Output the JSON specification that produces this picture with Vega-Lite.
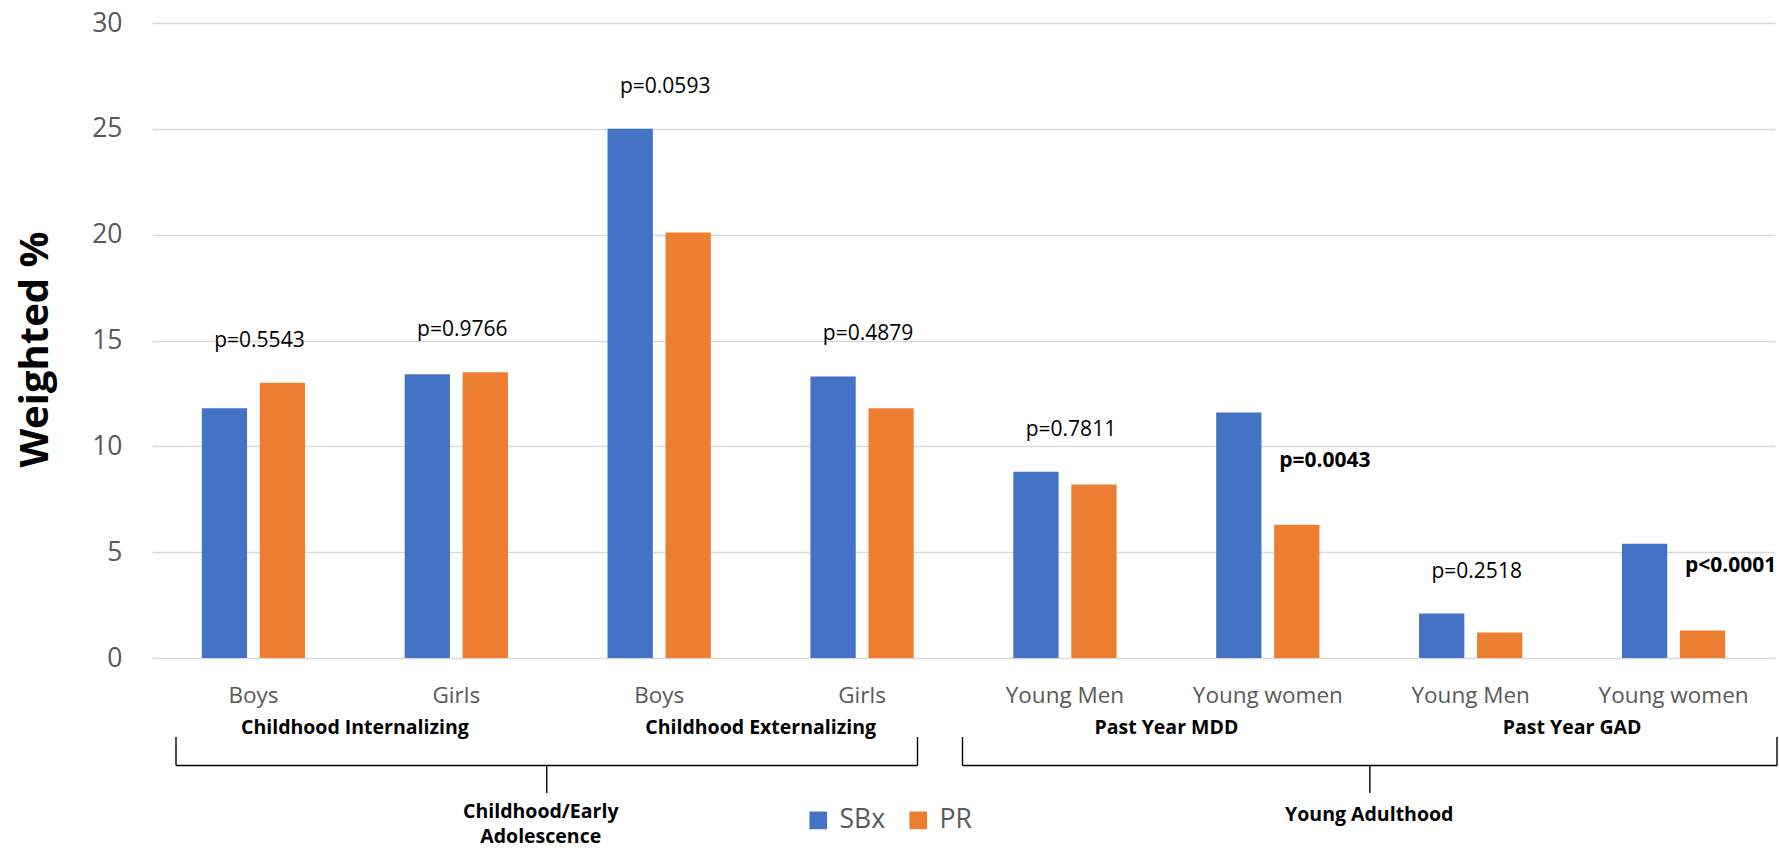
{
  "$schema": "https://vega.github.io/schema/vega-lite/v6.json",
  "width": 1623,
  "height": 635,
  "autosize": "none",
  "padding": {"left": 152, "top": 23, "right": 4, "bottom": 193},
  "background": "white",
  "config": {"view": {"stroke": null}, "font": "Open Sans"},
  "datasets": {
    "groups": [
      {"category": "Boys (Childhood Internalizing)", "subgroup": "Boys", "domain": "Childhood Internalizing", "period": "Childhood/Early Adolescence", "SBx": 11.8, "PR": 13.0, "p": "p=0.5543", "p_value": 0.5543},
      {"category": "Girls (Childhood Internalizing)", "subgroup": "Girls", "domain": "Childhood Internalizing", "period": "Childhood/Early Adolescence", "SBx": 13.4, "PR": 13.5, "p": "p=0.9766", "p_value": 0.9766},
      {"category": "Boys (Childhood Externalizing)", "subgroup": "Boys", "domain": "Childhood Externalizing", "period": "Childhood/Early Adolescence", "SBx": 25.0, "PR": 20.1, "p": "p=0.0593", "p_value": 0.0593},
      {"category": "Girls (Childhood Externalizing)", "subgroup": "Girls", "domain": "Childhood Externalizing", "period": "Childhood/Early Adolescence", "SBx": 13.3, "PR": 11.8, "p": "p=0.4879", "p_value": 0.4879},
      {"category": "Young Men (Past Year MDD)", "subgroup": "Young Men", "domain": "Past Year MDD", "period": "Young Adulthood", "SBx": 8.8, "PR": 8.2, "p": "p=0.7811", "p_value": 0.7811},
      {"category": "Young women (Past Year MDD)", "subgroup": "Young women", "domain": "Past Year MDD", "period": "Young Adulthood", "SBx": 11.6, "PR": 6.3, "p": "p=0.0043", "p_value": 0.0043},
      {"category": "Young Men (Past Year GAD)", "subgroup": "Young Men", "domain": "Past Year GAD", "period": "Young Adulthood", "SBx": 2.1, "PR": 1.2, "p": "p=0.2518", "p_value": 0.2518},
      {"category": "Young women (Past Year GAD)", "subgroup": "Young women", "domain": "Past Year GAD", "period": "Young Adulthood", "SBx": 5.4, "PR": 1.3, "p": "p<0.0001", "p_value": 0.0001}
    ],
    "periods": [
      {"period": "Childhood/Early Adolescence", "label": "Childhood/Early\nAdolescence", "first": "Boys (Childhood Internalizing)", "last": "Girls (Childhood Externalizing)", "middle": "Girls (Childhood Internalizing)"},
      {"period": "Young Adulthood", "label": "Young Adulthood", "first": "Young Men (Past Year MDD)", "last": "Young women (Past Year GAD)", "middle": "Young women (Past Year MDD)"}
    ]
  },
  "layer": [
    {
      "data": {"name": "groups"},
      "transform": [{"fold": ["SBx", "PR"], "as": ["series", "value"]}],
      "mark": {"type": "bar"},
      "encoding": {
        "x": {
          "field": "category", "type": "nominal", "sort": null,
          "scale": {
            "domain": ["Boys (Childhood Internalizing)", "Girls (Childhood Internalizing)", "Boys (Childhood Externalizing)", "Girls (Childhood Externalizing)", "Young Men (Past Year MDD)", "Young women (Past Year MDD)", "Young Men (Past Year GAD)", "Young women (Past Year GAD)"],
            "paddingInner": 0, "paddingOuter": 0
          },
          "axis": {
            "title": null, "domain": false, "ticks": false, "tickSize": 0,
            "labelExpr": "split(datum.label, ' (')[0]",
            "labelAngle": 0, "labelFontSize": 22.5, "labelColor": "#595959",
            "labelBaseline": "alphabetic", "labelPadding": 44, "labelFont": "Open Sans"
          }
        },
        "xOffset": {
          "field": "series", "type": "nominal",
          "scale": {"domain": ["SBx", "PR"], "paddingInner": 0.219, "paddingOuter": 0.859}
        },
        "y": {
          "field": "value", "type": "quantitative",
          "scale": {"domain": [0, 30], "nice": false, "zero": true},
          "axis": {
            "values": [0, 5, 10, 15, 20, 25, 30],
            "title": "Weighted %", "titleFontSize": 40, "titleFontWeight": "bold", "titleColor": "#000000",
            "titleFont": "Open Sans", "titleAngle": -90, "titleX": -105, "titleY": 326,
            "titleAlign": "center", "titleBaseline": "alphabetic",
            "domain": false, "ticks": false, "tickSize": 0,
            "grid": true, "gridColor": "#d9d9d9", "gridWidth": 1.4,
            "labelFontSize": 26.5, "labelColor": "#595959", "labelPadding": 30, "labelFont": "Open Sans"
          }
        },
        "color": {
          "field": "series", "type": "nominal",
          "scale": {"domain": ["SBx", "PR"], "range": ["#4472C4", "#ED7D31"]},
          "legend": {
            "orient": "none", "legendX": 653, "legendY": 784, "direction": "horizontal",
            "title": null, "symbolType": "square", "symbolSize": 313, "symbolStrokeWidth": 0,
            "symbolOpacity": 1, "labelFontSize": 26.5, "labelColor": "#595959", "labelFont": "Open Sans",
            "columnPadding": 19, "labelOffset": 8
          }
        }
      }
    },
    {
      "data": {"name": "groups"},
      "transform": [
        {"fold": ["SBx", "PR"], "as": ["series", "value"]},
        {"filter": "datum.p_value >= 0.05"}
      ],
      "mark": {"type": "text", "fontSize": 21, "color": "#000000", "baseline": "alphabetic", "dy": -36, "dx": 6, "font": "Open Sans"},
      "encoding": {
        "x": {"field": "category", "type": "nominal"},
        "y": {"aggregate": "max", "field": "value", "type": "quantitative"},
        "text": {"field": "p", "type": "nominal"}
      }
    },
    {
      "data": {"name": "groups"},
      "transform": [
        {"fold": ["SBx", "PR"], "as": ["series", "value"]},
        {"filter": "datum.p_value < 0.05 && datum.series == 'PR'"}
      ],
      "mark": {"type": "text", "fontSize": 21, "fontWeight": "bold", "color": "#000000", "baseline": "alphabetic", "dy": -58, "dx": 28, "font": "Open Sans"},
      "encoding": {
        "x": {"field": "category", "type": "nominal"},
        "xOffset": {"field": "series", "type": "nominal"},
        "y": {"field": "value", "type": "quantitative"},
        "text": {"field": "p", "type": "nominal"}
      }
    },
    {
      "data": {"name": "groups"},
      "transform": [{"filter": "datum.subgroup == 'Boys' && datum.domain == 'Childhood Internalizing' || datum.subgroup == 'Boys' && datum.domain == 'Childhood Externalizing' || datum.subgroup == 'Young Men'"}],
      "mark": {"type": "text", "fontSize": 19.5, "fontWeight": "bold", "color": "#000000", "baseline": "alphabetic", "dy": 76, "font": "Open Sans"},
      "encoding": {
        "x": {"field": "category", "type": "nominal", "bandPosition": 1},
        "y": {"datum": 0},
        "text": {"field": "domain", "type": "nominal"}
      }
    },
    {
      "data": {"name": "periods"},
      "transform": [{"filter": "datum.period == 'Childhood/Early Adolescence'"}],
      "layer": [
        {
          "mark": {"type": "rule", "color": "#000000", "strokeWidth": 1.4, "xOffset": 24, "x2Offset": -46, "yOffset": 107.5},
          "encoding": {
            "x": {"field": "first", "type": "nominal", "bandPosition": 0},
            "x2": {"field": "last", "bandPosition": 1},
            "y": {"datum": 0}
          }
        },
        {
          "mark": {"type": "rule", "color": "#000000", "strokeWidth": 1.4, "xOffset": 24, "yOffset": 79, "y2Offset": 107.5},
          "encoding": {
            "x": {"field": "first", "type": "nominal", "bandPosition": 0},
            "y": {"datum": 0}, "y2": {"datum": 0}
          }
        },
        {
          "mark": {"type": "rule", "color": "#000000", "strokeWidth": 1.4, "xOffset": -46, "yOffset": 79, "y2Offset": 107.5},
          "encoding": {
            "x": {"field": "last", "type": "nominal", "bandPosition": 1},
            "y": {"datum": 0}, "y2": {"datum": 0}
          }
        },
        {
          "mark": {"type": "rule", "color": "#000000", "strokeWidth": 1.4, "xOffset": -11, "yOffset": 107.5, "y2Offset": 135},
          "encoding": {
            "x": {"field": "middle", "type": "nominal", "bandPosition": 1},
            "y": {"datum": 0}, "y2": {"datum": 0}
          }
        },
        {
          "mark": {"type": "text", "fontSize": 19.5, "fontWeight": "bold", "color": "#000000", "baseline": "alphabetic", "dy": 160, "dx": -17, "lineBreak": "\n", "lineHeight": 25, "font": "Open Sans"},
          "encoding": {
            "x": {"field": "middle", "type": "nominal", "bandPosition": 1},
            "y": {"datum": 0},
            "text": {"field": "label", "type": "nominal"}
          }
        }
      ]
    },
    {
      "data": {"name": "periods"},
      "transform": [{"filter": "datum.period == 'Young Adulthood'"}],
      "layer": [
        {
          "mark": {"type": "rule", "color": "#000000", "strokeWidth": 1.4, "xOffset": -1, "x2Offset": 2, "yOffset": 107.5},
          "encoding": {
            "x": {"field": "first", "type": "nominal", "bandPosition": 0},
            "x2": {"field": "last", "bandPosition": 1},
            "y": {"datum": 0}
          }
        },
        {
          "mark": {"type": "rule", "color": "#000000", "strokeWidth": 1.4, "xOffset": -1, "yOffset": 79, "y2Offset": 107.5},
          "encoding": {
            "x": {"field": "first", "type": "nominal", "bandPosition": 0},
            "y": {"datum": 0}, "y2": {"datum": 0}
          }
        },
        {
          "mark": {"type": "rule", "color": "#000000", "strokeWidth": 1.4, "xOffset": 2, "yOffset": 79, "y2Offset": 107.5},
          "encoding": {
            "x": {"field": "last", "type": "nominal", "bandPosition": 1},
            "y": {"datum": 0}, "y2": {"datum": 0}
          }
        },
        {
          "mark": {"type": "rule", "color": "#000000", "strokeWidth": 1.4, "xOffset": 0.6, "yOffset": 107.5, "y2Offset": 135},
          "encoding": {
            "x": {"field": "middle", "type": "nominal", "bandPosition": 1},
            "y": {"datum": 0}, "y2": {"datum": 0}
          }
        },
        {
          "mark": {"type": "text", "fontSize": 19.5, "fontWeight": "bold", "color": "#000000", "baseline": "alphabetic", "dy": 163, "dx": 0, "lineBreak": "\n", "lineHeight": 25, "font": "Open Sans"},
          "encoding": {
            "x": {"field": "middle", "type": "nominal", "bandPosition": 1},
            "y": {"datum": 0},
            "text": {"field": "label", "type": "nominal"}
          }
        }
      ]
    }
  ]
}
